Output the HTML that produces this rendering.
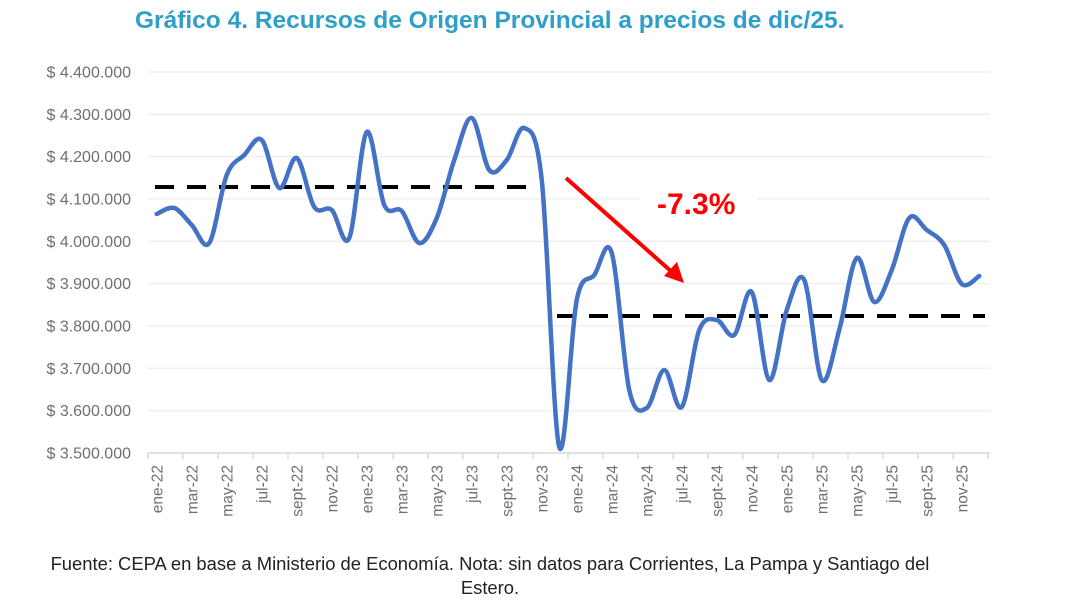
<!DOCTYPE html>
<html><head><meta charset="utf-8"><style>
body{margin:0;background:#fff;width:1080px;height:610px;overflow:hidden;font-family:"Liberation Sans",sans-serif}
</style></head><body>
<svg id="s" width="1080" height="610" xmlns="http://www.w3.org/2000/svg" font-family="Liberation Sans, sans-serif">
<text x="135" y="28" font-size="24.5" font-weight="bold" fill="#2E9FC8">Gráfico 4. Recursos de Origen Provincial a precios de dic/25.</text>
<g id="grid"></g>
<line x1="148" y1="453" x2="990" y2="453" stroke="#d9d9d9" stroke-width="1.5"/>
<g id="ticks"></g>
<line x1="155" y1="187" x2="527" y2="187" stroke="#000" stroke-width="4" stroke-dasharray="19,13"/>
<line x1="557" y1="316" x2="985" y2="316" stroke="#000" stroke-width="4" stroke-dasharray="19,13"/>
<rect x="640" y="185" width="117" height="32" fill="#fff"/>
<path id="p" fill="none" stroke="#4472C4" stroke-width="4.5" stroke-linejoin="round" stroke-linecap="round"/>
<line x1="566" y1="178" x2="673" y2="273" stroke="#FF0000" stroke-width="4"/>
<polygon points="684,283 664,276 677,262" fill="#FF0000"/>
<text x="657" y="214" font-size="30" font-weight="bold" fill="#FF0000">-7.3%</text>
<text x="490" y="570" font-size="18.4" fill="#222" text-anchor="middle">Fuente: CEPA en base a Ministerio de Economía. Nota: sin datos para Corrientes, La Pampa y Santiago del</text>
<text x="490" y="594" font-size="18.4" fill="#222" text-anchor="middle">Estero.</text>
</svg>
<script>
var ns="http://www.w3.org/2000/svg",s=document.getElementById('s');
var g=document.getElementById('grid'),t=document.getElementById('ticks');
function el(p,n,a,txt){var e=document.createElementNS(ns,n);for(var k in a)e.setAttribute(k,a[k]);if(txt)e.textContent=txt;p.appendChild(e);return e;}
var labs=["4.400.000","4.300.000","4.200.000","4.100.000","4.000.000","3.900.000","3.800.000","3.700.000","3.600.000","3.500.000"];
for(var i=0;i<10;i++){var y=72+i*42.33;if(i<9)el(g,'line',{x1:148,x2:990,y1:y,y2:y,stroke:'#eeeeee','stroke-width':1.3});
el(g,'text',{x:131,y:y+5.5,'font-size':16,fill:'#6f6f6f','text-anchor':'end'},'$ '+labs[i]);}
var m=["ene","mar","may","jul","sept","nov"];
for(var k=0;k<=24;k++){var x=148+35*k;el(t,'line',{x1:x,x2:x,y1:453,y2:459,stroke:'#d9d9d9','stroke-width':1.5});}
for(var k=0;k<24;k++){var cx=156.75+35*k+5.5;var lab=m[k%6]+'-'+(22+Math.floor(k/6));
el(t,'text',{x:0,y:0,'font-size':15.5,fill:'#6f6f6f','text-anchor':'end',transform:'translate('+cx+',465) rotate(-90)'},lab);}
var Y=[214,208,225,243,175,155,140,188,158,207,210,238,132,205,211,243,218,160,118,170,160,128,180,447,300,275,253,390,408,370,407,330,320,335,292,380,310,280,380,330,258,302,270,218,230,245,284,276];
var P=Y.map(function(y,i){return[156.75+17.5*i,y]});
var d='M'+P[0][0]+','+P[0][1];
for(var i=0;i<P.length-1;i++){var p0=P[i-1]||P[i],p1=P[i],p2=P[i+1],p3=P[i+2]||p2,tt=6;
d+=' C'+(p1[0]+(p2[0]-p0[0])/tt)+','+(p1[1]+(p2[1]-p0[1])/tt)+' '+(p2[0]-(p3[0]-p1[0])/tt)+','+(p2[1]-(p3[1]-p1[1])/tt)+' '+p2[0]+','+p2[1];}
document.getElementById('p').setAttribute('d',d);
</script>
</body></html>
